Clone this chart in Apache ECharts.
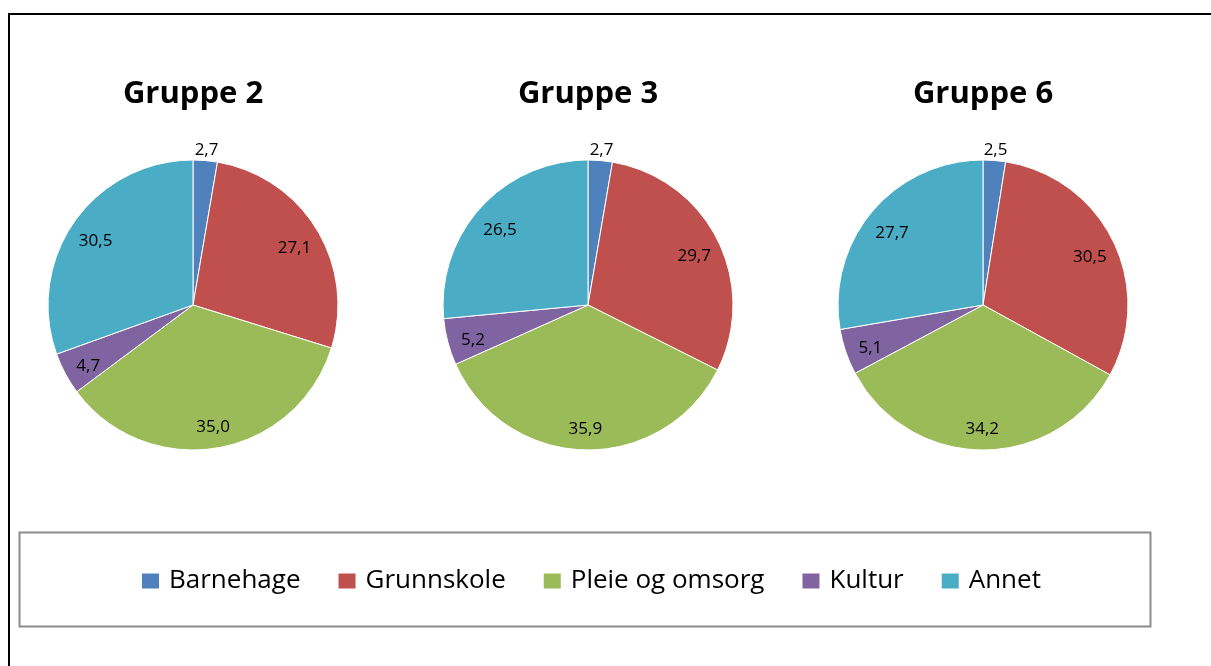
<!DOCTYPE html>
<html>
<head>
<meta charset="utf-8">
<script src="https://cdn.jsdelivr.net/npm/echarts@6/dist/echarts.min.js"></script>
<style>
  html, body { margin: 0; padding: 0; background: #fff; }
  #chart { width: 1211px; height: 666px; }
</style>
</head>
<body>
<div id="chart"></div>
<script>
var categories = ['Barnehage', 'Grunnskole', 'Pleie og omsorg', 'Kultur', 'Annet'];
var groupTitles = ['Gruppe 2', 'Gruppe 3', 'Gruppe 6'];
var gruppe2 = [2.7, 27.1, 35.0, 4.7, 30.5];
var gruppe3 = [2.7, 29.7, 35.9, 5.2, 26.5];
var gruppe6 = [2.5, 30.5, 34.2, 5.1, 27.7];
var groupValues = [gruppe2, gruppe3, gruppe6];
var colors = ['#4F81BD', '#C0504D', '#9BBB59', '#8064A2', '#4BACC6'];

(function () {
  var myChart = echarts.init(document.getElementById('chart'));
  var font = '"Open Sans", "DejaVu Sans", sans-serif';
  var centersX = [193, 588, 983];
  var centerY = 305;
  var labelCenterY = 310; // labels sit a little lower than the slice midpoints
  var R = 145;

  function fmt(p) {
    return p.value.toFixed(1).replace('.', ',');
  }

  var labelStyle = {
    show: true, position: 'inside', formatter: fmt,
    fontFamily: font, fontSize: 17, color: '#000'
  };

  var titles = [];
  var series = [];
  groupValues.forEach(function (vals, g) {
    titles.push({
      text: groupTitles[g],
      left: centersX[g],
      top: 79,
      padding: 0,
      textAlign: 'center',
      textStyle: { fontFamily: font, fontSize: 31, fontWeight: 'bold', color: '#000' }
    });
    var data = vals.map(function (v, i) { return { name: categories[i], value: v }; });
    // visible pie
    series.push({
      type: 'pie',
      center: [centersX[g], centerY],
      radius: R,
      startAngle: 90,
      animation: false,
      silent: true,
      label: { show: false },
      labelLine: { show: false },
      itemStyle: { borderColor: '#fff', borderWidth: 1 },
      data: data
    });
    // inside labels
    series.push({
      type: 'pie',
      center: [centersX[g], labelCenterY],
      radius: [87, R],
      startAngle: 90,
      animation: false,
      silent: true,
      itemStyle: { color: 'transparent', borderWidth: 0 },
      label: labelStyle,
      labelLine: { show: false },
      data: vals.map(function (v, i) {
        var d = { name: categories[i], value: v };
        if (i === 0) d.label = { show: false };
        return d;
      })
    });
    // outside label for the small slice
    series.push({
      type: 'pie',
      center: [centersX[g], labelCenterY],
      radius: [R, R + 24],
      startAngle: 90,
      animation: false,
      silent: true,
      itemStyle: { color: 'transparent', borderWidth: 0 },
      label: labelStyle,
      labelLine: { show: false },
      data: vals.map(function (v, i) {
        var d = { name: categories[i], value: v };
        if (i !== 0) d.label = { show: false };
        return d;
      })
    });
  });

  var option = {
    color: colors,
    animation: false,
    title: titles,
    legend: {
      data: categories,
      left: 140,
      top: 568,
      padding: 0,
      icon: 'rect',
      itemWidth: 19,
      itemHeight: 17,
      itemGap: 36,
      selectedMode: false,
      textStyle: { fontFamily: font, fontSize: 26, color: '#000', padding: [0, 0, 0, 4] }
    },
    graphic: [
      {
        type: 'rect',
        shape: { x: 9, y: 14, width: 1300, height: 700 },
        style: { fill: 'none', stroke: '#000', lineWidth: 2 },
        silent: true
      },
      {
        type: 'rect',
        shape: { x: 19.5, y: 532.5, width: 1131, height: 94 },
        style: { fill: 'none', stroke: '#8c8c8c', lineWidth: 2 },
        silent: true
      }
    ],
    series: series
  };

  option && myChart.setOption(option);
})();
</script>
</body>
</html>
